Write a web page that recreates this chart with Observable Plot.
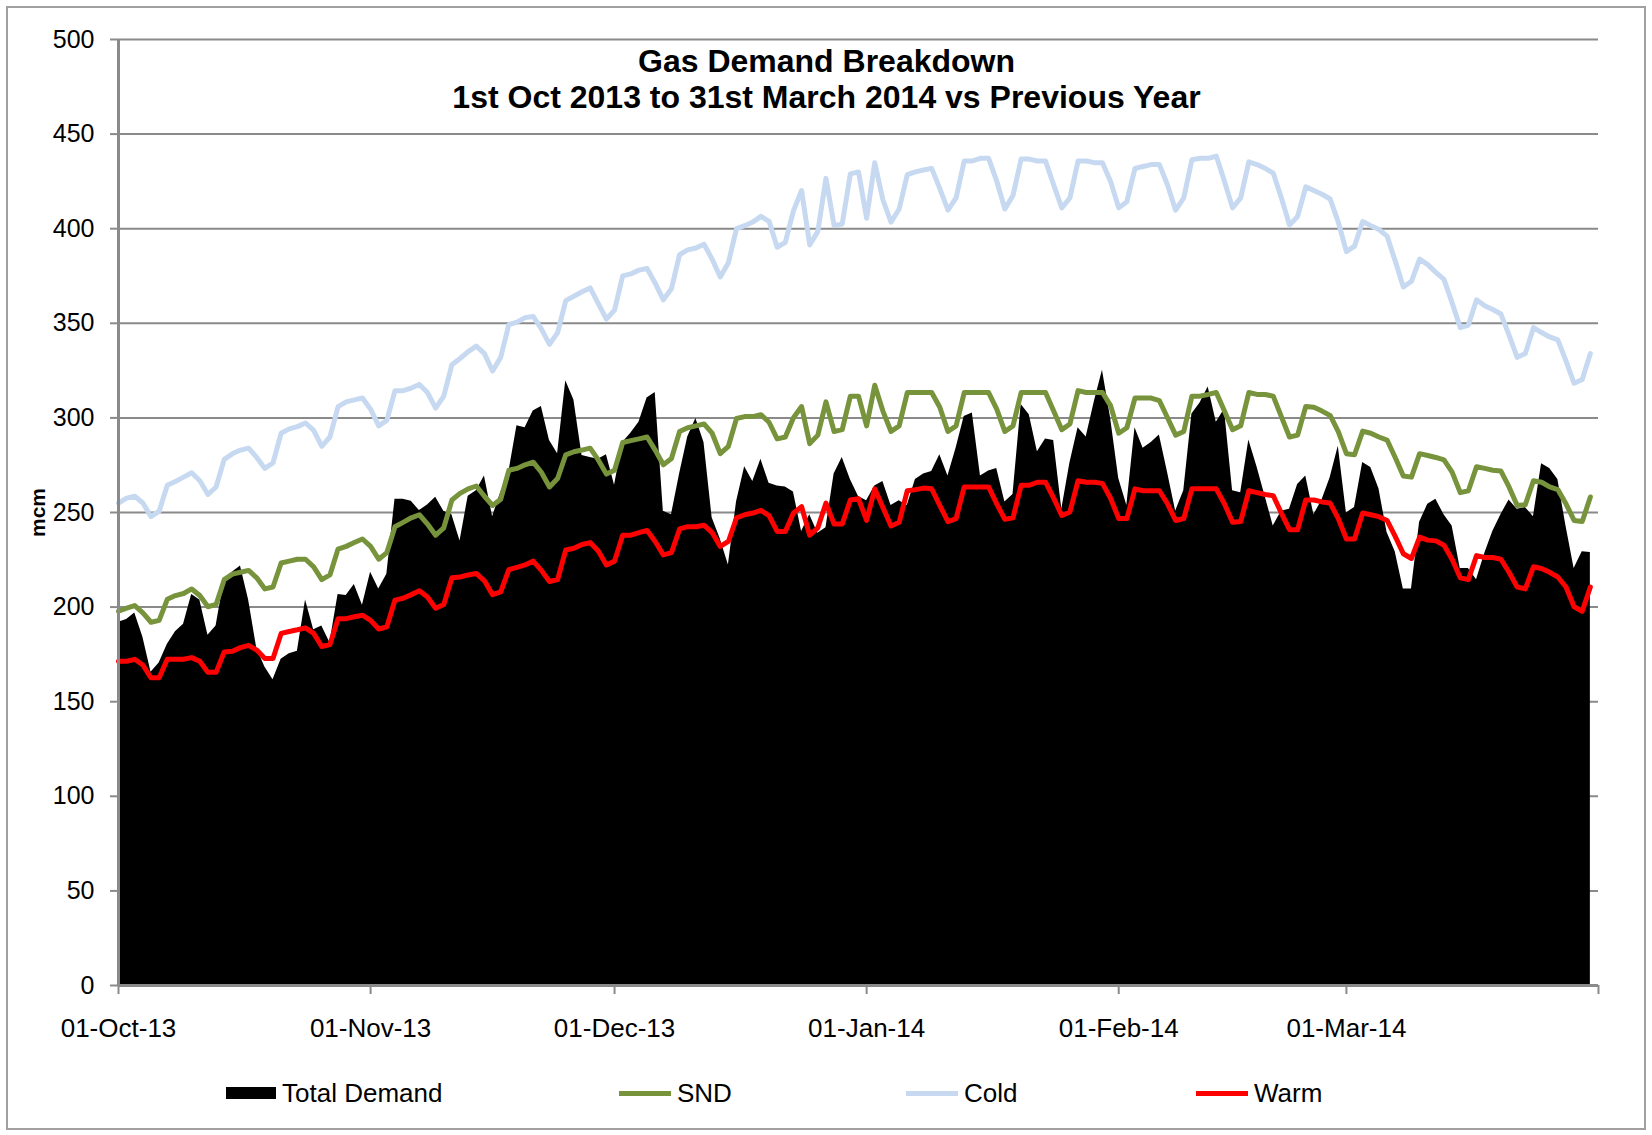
<!DOCTYPE html>
<html>
<head>
<meta charset="utf-8">
<script src="https://cdn.jsdelivr.net/npm/d3@7"></script>
<script src="https://cdn.jsdelivr.net/npm/@observablehq/plot@0.6"></script>
<style>
  html, body { margin: 0; padding: 0; background: #fff; overflow: hidden; }
  #wrap { position: relative; width: 1652px; height: 1135px; font-family: "Liberation Sans", Arial, sans-serif; }
  #frame { position: absolute; left: 6px; top: 6px; width: 1640px; height: 1124px; border: 2px solid #a0a0a0; box-sizing: border-box; pointer-events: none; }
  #chart { position: absolute; left: 0; top: 0; }
  #legend { position: absolute; left: 0; top: 1076px; width: 1652px; height: 34px; font-size: 26px; color: #000; }
  .item { position: absolute; top: 0; height: 34px; display: flex; align-items: center; white-space: nowrap; }
  .sw { display: inline-block; margin-right: 6px; }
  #chart svg [aria-label="y-axis label"] text { font-weight: bold; font-size: 21px; }
</style>
</head>
<body>
<div id="wrap">
  <div id="chart"></div>
  <div id="frame"></div>
  <div id="legend"></div>
</div>
<script>
// ---- data (daily values, mcm), 1 Oct 2013 .. 31 Mar 2014 ----
const startDate = new Date(Date.UTC(2013, 9, 1));
const endDate = new Date(Date.UTC(2014, 3, 1));

const totalDemand = [
192,193.5,196.9,184.1,165.5,170.4,180.2,187,191,206.6,
203.7,185.1,190,214.5,218.4,221.7,203.7,178.2,168.4,161.6,
172.4,175.3,176.7,203.7,188,190,181.2,206.6,206.1,211.9,
201,218.4,209.6,217.4,257,257,256,251,254,258,
250.7,248.8,235,258.6,261.5,269.3,247.8,260.5,271.3,295.8,
294.8,303.6,306,288,281.1,319.7,309.5,280.1,279.1,278.1,
280.5,264.4,287,291.9,297.7,310.5,313.4,250.7,248.8,270.3,
289.9,299.7,287,247.2,236,222.3,255.6,274.2,266.4,278.1,
265.4,264,263.5,260.9,240,248.8,239,241.9,270.3,279.1,
267.4,258.4,256.2,264,266.4,253.7,256.2,253.7,267.4,270.3,
271.7,280.5,269.3,284,300.7,302.6,269.3,271.9,273.3,255.6,
259.5,307.1,301.7,282.1,288.9,288,251.7,276.2,294.8,289.9,
308.5,325.2,300,268,253.7,294.8,284,287,290.9,271.3,
250.7,261.5,302,307.9,316.3,297.7,304.6,261.5,260.5,288.3,
274.2,258.6,242.9,250.7,251.7,264.8,269.3,248.8,256.6,268.4,
285,249.7,252.7,276.4,273.8,262.5,239.4,229.2,209.6,209.6,
244.8,254.3,257,248.8,242.9,220.4,220.4,214.5,228.2,240,
248.8,256.6,251.7,252.7,247.8,275.8,273.3,267.4,242.9,220.4,
229.2,228.8
];

const snd = [
197.8,199.4,200.8,196.9,192,193,204.1,206.1,207.2,209.6,
206.1,200.2,201.4,214.5,217.4,218.4,219.4,215.5,209.6,210.6,
223.3,224.3,225.3,225.3,221.3,214.5,217,230.7,232.1,234.1,
236,232.1,225.3,228.8,242.5,244.8,247.2,248.8,243.9,238,
241.9,256.6,260.1,262.5,264,258.6,253.7,257,272.3,273.3,
275.2,276.6,271.3,263.5,268,280.5,282.1,283,284,277.8,
270.3,272.3,287,288,288.9,289.9,283,275.2,278.5,292.8,
294.8,295.8,296.8,291.9,281.1,285,299.7,300.7,300.7,301.7,
297.7,288.9,289.9,300.1,306,286.4,290.9,308.5,292.8,293.8,
311.5,311.5,295.8,317.3,303.6,292.8,295.8,313.4,313.4,313.4,
313.4,305.6,292.8,295.8,313.4,313.4,313.4,313.4,304.6,292.8,
295.8,313.4,313.4,313.4,313.4,303.6,293.8,296.8,314.4,313.4,
313.4,313.4,306.5,291.9,294.8,310.5,310.5,310.5,309.1,300.1,
290.9,292.8,311.5,311.5,312.4,313.4,303.6,293.8,295.8,313.4,
312.4,312.4,311.5,300.7,289.9,290.9,306,305.6,303.6,301.3,
292.8,281.1,280.5,293,291.9,289.9,288.3,279.1,269.3,268.7,
281.1,280.1,279.1,277.8,271.3,260.5,261.5,274.2,273.3,272.3,
271.9,263.5,253.7,254.1,266.8,266,263.5,262.1,254.6,245.8,
245.2,258.2
];

const cold = [
255,257.6,258.6,255,247.8,250.7,264.4,266.4,268.7,271,
266.8,259.5,263.5,278.1,281,283,284,279.1,273.3,276.2,
291.9,294.2,295.4,297.3,293.4,285,289.9,306,308.5,309.5,
310.5,304.6,295.8,298.7,314.4,314.4,315.8,317.7,313.4,305.2,
311.5,328.1,331.4,335,337.9,334,324.8,332,349.3,350.6,
353,353.6,347.1,338.9,345.1,362,364.3,366.7,368.7,360.4,
352.2,357,375.1,376.1,378.1,379,371.2,362.4,368.3,386.3,
388.8,389.8,391.8,383.9,374.5,382,400,401.6,403.5,406.5,
403.9,390.2,392.8,409.4,420.2,391.4,398.6,426.6,401.6,402.5,
429,430,405.5,434.9,415.3,403.5,410.4,428.6,430,431,
431.9,421.2,409.8,416.3,435.8,435.8,437.2,437.2,425.1,410.4,
417.6,436.8,436.8,435.8,435.8,423.1,411,416.3,435.8,435.8,
434.9,434.9,425,411,414.3,431.9,432.9,433.9,433.9,423.1,
409.8,416.3,436.4,437.2,437.2,438.4,425.1,411,416.3,435.3,
433.9,431.9,429.4,416.3,402,406.5,422.1,420.2,418.2,415.7,
403.5,387.9,390.8,403.8,401.6,399.6,396.1,383,369.2,372.2,
383.9,381,376.9,373.2,360.8,347.7,349.1,362.4,359.3,357.3,
354.9,343.8,332,334,347.7,345.1,342.8,341.2,330.1,318.3,
320.3,334
];

const warm = [
171.4,171.4,172.4,169.4,162.6,162.6,172.4,172.4,172.4,173.3,
171.4,165.5,165.5,176.3,176.7,178.6,179.8,177.3,172.8,172.8,
186.1,187.1,188,189,186.1,179.2,180.2,193.9,193.9,194.9,
195.7,193,188.4,189.6,203.7,204.7,206.6,208.6,205.3,199.4,
201.4,215.5,215.9,217,217.8,213.9,206.6,208,219.8,221,
222.3,224.3,219.4,213.5,214.5,230.2,231.1,233.1,234.1,229.6,
222.3,224.3,238,238,239.4,240.5,234.7,227.6,228.8,241.3,
242.5,242.5,243.3,239.4,232.1,234.7,247.2,248.8,249.7,251.1,
248.4,240,240,249.7,253.1,238,241.9,255,243.9,243.9,
256.6,257.3,245.8,262.5,252.7,242.9,244.8,261.5,262.1,262.9,
262.5,253.7,245.2,246.8,263.5,263.5,263.5,263.5,254.6,246.4,
247.2,264.4,264.4,266,266,257.6,248.4,250.3,266.8,266,
266,265.4,257.5,246.8,246.8,262.5,261.5,261.5,261.5,254.6,
245.8,246.8,262.5,262.5,262.5,262.5,254.6,244.8,245.2,261.5,
260.5,259.5,258.9,249.7,240.9,240.9,256.6,256.6,255.6,255,
246.8,236,236,249.7,248.8,247.8,245.8,237.4,228.2,225.7,
237,235.4,235,232.7,225.3,215.5,214.5,227.2,226.2,226.2,
225.3,218.4,210.6,209.6,221.3,220.4,218.4,215.9,210.6,200.2,
197.8,210.6
];

const yTicks = [0, 50, 100, 150, 200, 250, 300, 350, 400, 450, 500];
const monthTicks = [
  new Date(Date.UTC(2013, 9, 1)), new Date(Date.UTC(2013, 10, 1)), new Date(Date.UTC(2013, 11, 1)),
  new Date(Date.UTC(2014, 0, 1)), new Date(Date.UTC(2014, 1, 1)), new Date(Date.UTC(2014, 2, 1)),
  new Date(Date.UTC(2014, 3, 1))
];
const monthLabels = ["01-Oct-13", "01-Nov-13", "01-Dec-13", "01-Jan-14", "01-Feb-14", "01-Mar-14", ""];
const titleText = "Gas Demand Breakdown\n1st Oct 2013 to 31st March 2014 vs Previous Year";

const seriesNames = ["Total Demand", "SND", "Cold", "Warm"];
const seriesColors = ["#000000", "#77933C", "#C6D9F1", "#FF0000"];

// ---- build table ----
const days = d3.utcDay.range(startDate, endDate);
const rows = days.map((date, i) => ({
  date, total: totalDemand[i], snd: snd[i], cold: cold[i], warm: warm[i]
}));

const grey = "#8a8a8a";

const chart = Plot.plot({
  width: 1652,
  height: 1135,
  marginLeft: 118,
  marginRight: 54,
  marginTop: 39,
  marginBottom: 150,
  style: { fontFamily: "'Liberation Sans', Arial, sans-serif", fontSize: "25px", color: "#000", background: "transparent", overflow: "visible" },
  x: { type: "utc", domain: [startDate, endDate] },
  y: { domain: [0, 500] },
  marks: [
    Plot.gridY(yTicks, { stroke: grey, strokeWidth: 2, strokeOpacity: 1 }),
    Plot.areaY(rows, { x: "date", y: "total", fill: seriesColors[0] }),
    Plot.lineY(rows, { x: "date", y: "snd", stroke: seriesColors[1], strokeWidth: 5, strokeLinejoin: "round" }),
    Plot.lineY(rows, { x: "date", y: "cold", stroke: seriesColors[2], strokeWidth: 5, strokeLinejoin: "round" }),
    Plot.lineY(rows, { x: "date", y: "warm", stroke: seriesColors[3], strokeWidth: 5, strokeLinejoin: "round" }),
    Plot.ruleY([0], { stroke: grey, strokeWidth: 3 }),
    Plot.ruleX([startDate], { stroke: grey, strokeWidth: 3 }),
    Plot.axisY({
      ticks: yTicks, tickSize: 8, tickPadding: 16, stroke: grey, strokeWidth: 2, fill: "#000",
      fontSize: 25, label: "mcm", labelAnchor: "center", labelArrow: "none", labelOffset: 88
    }),
    Plot.axisX({
      ticks: monthTicks, tickSize: 9, tickPadding: 24, stroke: grey, strokeWidth: 2, fill: "#000",
      fontSize: 26, tickFormat: (d, i) => monthLabels[i], label: null
    }),
    Plot.text([titleText], {
      text: d => d, frameAnchor: "top", dx: -32, dy: 7, fontSize: 32, fontWeight: "bold",
      lineHeight: 1.12, fill: "#000"
    })
  ]
});
document.getElementById("chart").appendChild(chart);

// ---- legend ----
const legendPos = [226, 619, 906, 1196];
const legend = document.getElementById("legend");
seriesNames.forEach((name, i) => {
  const item = document.createElement("div");
  item.className = "item";
  item.style.left = legendPos[i] + "px";
  const sw = document.createElement("span");
  sw.className = "sw";
  sw.style.width = (i === 0 ? 50 : 52) + "px";
  sw.style.height = (i === 0 ? 12 : 5) + "px";
  sw.style.background = seriesColors[i];
  item.appendChild(sw);
  const t = document.createElement("span");
  t.textContent = name;
  item.appendChild(t);
  legend.appendChild(item);
});
</script>
</body>
</html>
